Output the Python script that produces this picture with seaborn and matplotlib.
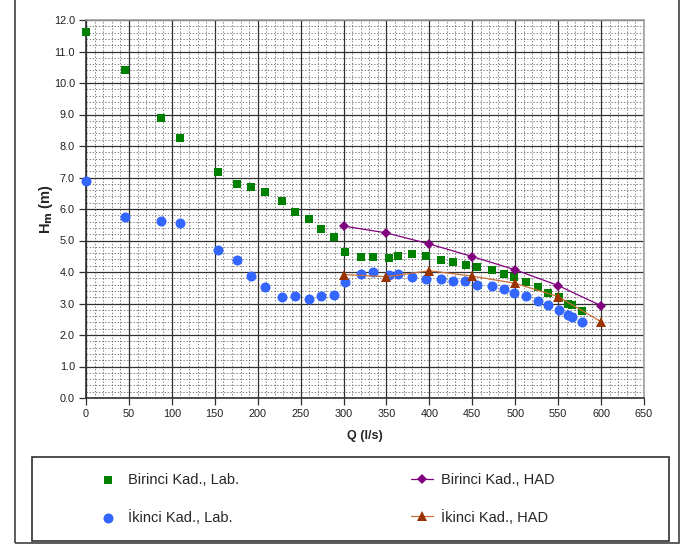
import matplotlib
matplotlib.use('Agg')
import matplotlib.pyplot as plt
import pandas as pd
import seaborn as sns
from matplotlib.patches import Rectangle
from matplotlib.ticker import MultipleLocator, FormatStrFormatter

# Birinci Kad., Lab.
q_lab1 = [0, 46, 87, 109, 154, 176, 192, 208, 228, 244, 260, 274, 289, 302,
          320, 334, 353, 364, 380, 396, 414, 428, 443, 456, 473, 487, 498,
          512, 526, 538, 551, 562, 566, 578]
h_lab1 = [11.62, 10.41, 8.90, 8.25, 7.18, 6.80, 6.69, 6.55, 6.24, 5.89, 5.68,
          5.37, 5.11, 4.62, 4.48, 4.48, 4.46, 4.51, 4.57, 4.51, 4.38, 4.31,
          4.23, 4.17, 4.06, 3.95, 3.83, 3.67, 3.52, 3.34, 3.21, 2.98, 2.94, 2.76]

# İkinci Kad., Lab.
q_lab2 = [0, 45, 87, 109, 154, 176, 192, 208, 228, 244, 260, 274, 289, 302,
          320, 334, 353, 364, 380, 396, 414, 428, 442, 456, 473, 487, 498,
          512, 526, 538, 551, 562, 566, 578]
h_lab2 = [6.88, 5.74, 5.62, 5.54, 4.71, 4.37, 3.87, 3.52, 3.21, 3.25, 3.15,
          3.25, 3.27, 3.69, 3.93, 3.99, 3.89, 3.93, 3.85, 3.78, 3.77, 3.71,
          3.71, 3.60, 3.54, 3.46, 3.34, 3.24, 3.07, 2.94, 2.80, 2.65, 2.57, 2.40]

# HAD results
q_had = [300, 350, 400, 450, 500, 550, 600]
h_had1 = [5.46, 5.24, 4.89, 4.49, 4.07, 3.57, 2.93]
h_had2 = [3.92, 3.85, 4.04, 3.87, 3.64, 3.22, 2.42]

sns.set_style('white')
plt.rcParams['font.family'] = ['Liberation Sans', 'DejaVu Sans']

fig = plt.figure(figsize=(6.85, 5.44), dpi=100)
ax = fig.add_axes([86 / 685, 1 - 398 / 544, (644 - 86) / 685, (398 - 20) / 544])

df1 = pd.DataFrame({'Q': q_lab1, 'H': h_lab1})
df2 = pd.DataFrame({'Q': q_lab2, 'H': h_lab2})
dh = pd.DataFrame({'Q': q_had, 'H1': h_had1, 'H2': h_had2})

sns.scatterplot(data=df1, x='Q', y='H', ax=ax, marker='s', s=38, color='#008000',
                linewidth=0, label='Birinci Kad., Lab.', zorder=4, clip_on=False)
sns.scatterplot(data=df2, x='Q', y='H', ax=ax, marker='o', s=52, color='#3366ff',
                linewidth=0, label='İkinci Kad., Lab.', zorder=4, clip_on=False)
sns.lineplot(data=dh, x='Q', y='H1', ax=ax, color='#800080', lw=0.9, marker='D',
             markersize=5.5, markeredgewidth=0, label='Birinci Kad., HAD', zorder=5)
sns.lineplot(data=dh, x='Q', y='H2', ax=ax, color='#c8703a', lw=0.9, marker='^',
             markersize=7.5, markerfacecolor='#993300', markeredgewidth=0,
             label='İkinci Kad., HAD', zorder=5)

ax.set_xlim(0, 650)
ax.set_ylim(0, 12)
ax.xaxis.set_major_locator(MultipleLocator(50))
ax.xaxis.set_minor_locator(MultipleLocator(10))
ax.yaxis.set_major_locator(MultipleLocator(1))
ax.yaxis.set_minor_locator(MultipleLocator(0.2))
ax.yaxis.set_major_formatter(FormatStrFormatter('%.1f'))

ax.grid(True, which='minor', color='#505050', lw=0.5, ls=(0, (2, 2.5)), zorder=1)
ax.grid(True, which='major', color='#303030', lw=0.9, ls='-', zorder=2)
ax.set_axisbelow(True)

for sp in ax.spines.values():
    sp.set_color('#a0a0a0')
    sp.set_linewidth(1.2)
ax.spines['left'].set_color('#303030')
ax.spines['bottom'].set_color('#303030')

ax.tick_params(axis='both', which='major', direction='out', length=5, width=0.9,
               color='#303030', labelsize=7.8, labelcolor='#202020', pad=3,
               bottom=True, left=True)
ax.tick_params(axis='both', which='minor', length=0)

ax.set_xlabel('Q (l/s)', fontsize=9, fontweight='bold', labelpad=8)
ax.set_ylabel(r'H$_\mathbf{m}$ (m)', fontsize=10.5, fontweight='bold', labelpad=-1)

handles, labels = ax.get_legend_handles_labels()
ax.get_legend().remove()
fig.legend(handles, labels, ncol=2, loc='upper left',
           bbox_to_anchor=(97 / 685, 1 - 473 / 544), frameon=False,
           fontsize=10.5, handlelength=1.5, handletextpad=0.6,
           columnspacing=11.8, labelspacing=1.55, borderpad=0, borderaxespad=0)

# legend box and outer chart border
fig.add_artist(Rectangle((31.7 / 685, 1 - 541 / 544), (669 - 31.7) / 685,
                         (541 - 457) / 544, transform=fig.transFigure,
                         fill=False, edgecolor='#303030', lw=1.2))
fig.add_artist(Rectangle((15 / 685, 1 - 542.5 / 544), (679 - 15) / 685,
                         1.05, transform=fig.transFigure,
                         fill=False, edgecolor='#404040', lw=1.2))

fig.savefig('out.png', dpi=100)
